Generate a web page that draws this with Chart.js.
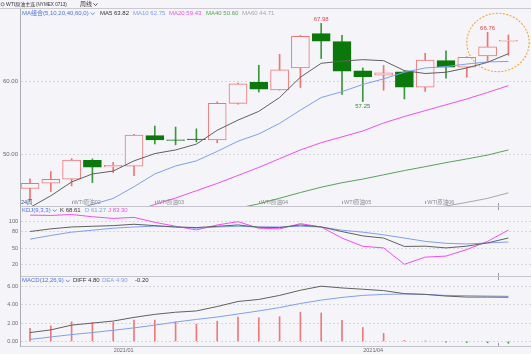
<!DOCTYPE html>
<html>
<head>
<meta charset="utf-8">
<script src="https://cdn.jsdelivr.net/npm/chart.js@4.4.1/dist/chart.umd.min.js"></script>
<style>
  html, body { margin: 0; padding: 0; background: #f4f4f9; }
  #wrap { position: relative; width: 531px; height: 354px; overflow: hidden; }
  canvas { position: absolute; left: 0; }
</style>
</head>
<body>
<div id="wrap">
  <canvas id="mainChart" width="531" height="207" style="top:0px"></canvas>
  <canvas id="kdjChart" width="531" height="70" style="top:207px"></canvas>
  <canvas id="macdChart" width="531" height="77" style="top:277px"></canvas>
</div>
<script>
// ---- dados (周线, 24 根) ----
const weekIdx = [0, 1, 2, 3, 4, 5, 6, 7, 8, 9, 10, 11, 12, 13, 14, 15, 16, 17, 18, 19, 20, 21, 22, 23];

const openP  = [45.30, 46.03, 46.58, 49.18, 48.26, 48.36, 52.56, 52.00, 52.10, 51.96, 56.99, 59.90, 58.86, 61.87, 66.58, 65.48, 61.46, 60.87, 61.32, 59.22, 62.87, 61.96, 63.50, 65.55];
const highP  = [46.62, 47.63, 49.40, 49.36, 48.90, 52.74, 53.88, 53.74, 53.50, 57.20, 59.77, 62.24, 63.74, 66.35, 67.98, 66.35, 61.87, 62.20, 61.50, 63.87, 64.23, 63.40, 66.76, 66.40];
const lowP   = [43.74, 44.89, 45.66, 46.12, 47.49, 47.08, 51.42, 51.30, 51.70, 51.60, 56.90, 58.54, 58.80, 59.18, 63.15, 58.22, 57.25, 58.80, 57.60, 58.63, 60.45, 60.60, 62.80, 63.60];
const closeP = [46.03, 46.58, 49.22, 48.22, 48.49, 52.65, 51.96, 51.90, 52.00, 56.99, 59.68, 58.95, 61.60, 66.21, 65.53, 61.42, 60.68, 61.19, 59.22, 62.96, 61.96, 63.32, 64.77, 65.65];

const ma5  = [42.7, 44.3, 46.2, 47.3, 47.7, 49.1, 50.1, 50.6, 51.4, 53.3, 54.7, 55.9, 57.8, 60.6, 62.5, 62.8, 63.0, 62.86, 61.5, 61.1, 61.27, 61.86, 62.64, 63.82];
const ma10 = [null, null, 42.3, 43.1, 43.94, 45.55, 47.3, 48.4, 49.1, 50.4, 51.8, 52.8, 54.25, 56.07, 57.8, 58.6, 59.6, 60.36, 61.27, 61.86, 62.05, 62.4, 62.7, 62.75];
const ma20 = [null, null, null, null, null, 42.2, 43.1, 44.0, 45.0, 46.0, 47.1, 48.2, 49.4, 50.6, 51.6, 52.4, 53.2, 54.3, 55.2, 56.0, 56.8, 57.6, 58.5, 59.43];
const ma40 = [null, null, null, null, null, null, null, null, null, null, 42.6, 43.2, 43.97, 44.75, 45.48, 46.1, 46.6, 47.18, 47.77, 48.3, 48.86, 49.36, 49.9, 50.60];
const ma60 = [null, null, null, null, null, null, null, null, null, null, null, null, null, null, null, null, null, null, null, 42.4, 42.9, 43.4, 43.95, 44.71];

const kVal = [80.6, 85.5, 89.0, 90.3, 91.5, 94.0, 91.5, 89.0, 87.9, 90.3, 92.7, 88.5, 87.9, 92.7, 89.0, 80.5, 72.5, 68.5, 53.0, 53.5, 50.3, 53.5, 59.6, 68.61];
const dVal = [66.5, 73.3, 79.4, 83.0, 86.7, 89.0, 90.5, 89.0, 86.7, 89.0, 90.3, 89.0, 89.0, 90.3, 89.0, 83.0, 79.4, 74.5, 68.5, 62.4, 58.8, 57.6, 59.4, 61.27];
const jVal = [110.9, 110.3, 112.0, 107.9, 104.8, 106.7, 97.6, 90.3, 83.6, 92.7, 98.8, 86.7, 85.5, 95.2, 89.0, 68.5, 53.3, 50.3, 20.0, 33.3, 35.2, 47.3, 62.4, 83.30];

const diffVal = [0.96, 1.25, 1.77, 1.99, 2.21, 2.61, 2.94, 3.17, 3.31, 3.79, 4.34, 4.56, 5.00, 5.56, 6.00, 5.81, 5.67, 5.52, 5.19, 5.11, 4.93, 4.82, 4.82, 4.80];
const deaVal  = [0.22, 0.48, 0.74, 0.96, 1.21, 1.47, 1.77, 2.10, 2.39, 2.65, 2.98, 3.31, 3.68, 4.12, 4.49, 4.78, 5.00, 5.11, 5.15, 5.11, 5.00, 4.97, 4.93, 4.90];
const macdBar = [1.43, 1.69, 2.13, 2.06, 2.06, 2.32, 2.32, 2.13, 1.88, 2.20, 2.65, 2.58, 2.69, 3.17, 3.09, 2.28, 1.51, 0.88, 0.11, 0.04, -0.08, -0.12, -0.15, -0.20];

const priceTicks = [50, 60];
const kdjTicks = [20, 50, 80, 100];
const macdTicks = [0, 2, 4, 6];
const dateTicks = [4.5, 16.5];
const dateLabels = ['2021/01', '2021/04'];
const contractAt = [2, 6, 11, 15, 19];
const contractNames = ['WTI原油02', 'WTI原油03', 'WTI原油04', 'WTI原油05', 'WTI原油06'];

// ---- estilo ----
const FONT = '"Liberation Sans", "Noto Sans CJK SC", sans-serif';
const BG = '#f4f4f9';
const RED = '#f07474';
const GREEN = '#0a780a';
const GREEN_WICK = '#3d963d';
const C_DARK = '#606060';
const C_BLUE = '#7f9ff0';
const C_PINK = '#f24ef2';
const C_GREEN = '#57a357';
const C_GRAY = '#a8a8a8';
const C_HEAD = '#4f72dc';
const X_MIN = -0.481, X_MAX = 24.087;

function xAxis(h, extra) {
  return Object.assign({
    type: 'linear', min: X_MIN, max: X_MAX, offset: false,
    afterFit: s => { s.height = h; s.paddingLeft = 0; s.paddingRight = 0; },
    ticks: { display: false },
    grid: { display: false, drawTicks: false, offset: false },
    border: { display: true, color: '#c4c4cc' }
  }, extra || {});
}

function yAxis(min, max, ticks, fmt, size) {
  return {
    position: 'left', min: min, max: max, beginAtZero: false,
    afterFit: s => { s.width = 20; s.paddingTop = 0; s.paddingBottom = 0; },
    afterBuildTicks: s => { s.ticks = ticks.map(v => ({ value: v })); },
    ticks: { font: { size: size, family: FONT }, color: '#6a6a6a', padding: 2, autoSkip: false, callback: v => fmt(v) },
    grid: { color: '#d6d6de', drawTicks: false },
    border: { display: true, color: '#acacb4', dash: [2, 2] }
  };
}

function lineDs(vals, color, order) {
  return {
    type: 'line', data: weekIdx.map(i => ({ x: i, y: vals[i] })),
    borderColor: color, borderWidth: 1, pointRadius: 0, tension: 0, fill: false, order: order
  };
}

function drawChevron(ctx, x, y, color) {
  ctx.save();
  ctx.strokeStyle = color; ctx.lineWidth = 0.8; ctx.setLineDash([]);
  ctx.beginPath(); ctx.moveTo(x, y - 1); ctx.lineTo(x + 2, y + 1.2); ctx.lineTo(x + 4, y - 1); ctx.stroke();
  ctx.restore();
}

function drawHeader(ctx, y, parts, size) {
  ctx.font = size + 'px ' + FONT; ctx.textBaseline = 'middle'; ctx.textAlign = 'left';
  parts.forEach(p => {
    ctx.fillStyle = p.color;
    ctx.fillText(p.text, p.x, y);
    if (p.chevron) drawChevron(ctx, p.x + ctx.measureText(p.text).width + 2, y, p.color);
  });
}

// marquinhas em 22.5 (topo / base do painel)
function edgeTicks(ctx, chart, top, bottom) {
  const x = Math.round(chart.scales.x.getPixelForValue(22.5)) + 0.5;
  const a = chart.chartArea;
  ctx.strokeStyle = '#9a9aa2'; ctx.lineWidth = 1; ctx.setLineDash([]);
  ctx.beginPath();
  if (top) { ctx.moveTo(x, a.top); ctx.lineTo(x, a.top + 3); }
  if (bottom) { ctx.moveTo(x, a.bottom - 3); ctx.lineTo(x, a.bottom); }
  ctx.stroke();
}

const last = arr => arr[arr.length - 1];

// ---- painel principal (K线 + MA) ----
const upAt = i => closeP[i] >= openP[i];

const mainDecor = {
  id: 'mainDecor',
  afterDraw(chart) {
    const ctx = chart.ctx, xs = chart.scales.x, ys = chart.scales.y, area = chart.chartArea;
    ctx.save();

    // barra de título
    ctx.strokeStyle = '#c9c9d2'; ctx.lineWidth = 1;
    ctx.beginPath(); ctx.moveTo(0, 8.5); ctx.lineTo(531, 8.5); ctx.stroke();
    ctx.textBaseline = 'middle'; ctx.textAlign = 'left'; ctx.fillStyle = '#333';
    ctx.strokeStyle = '#555'; ctx.lineWidth = 0.7;
    ctx.beginPath(); ctx.arc(2.6, 4.3, 1.6, 0, Math.PI * 2); ctx.stroke();
    ctx.font = '5px ' + FONT; ctx.fillText('WTI原油主连', 6, 4.4);
    ctx.font = '4.6px ' + FONT; ctx.fillText('(NYMEX 0713)', 36, 4.4);
    ctx.font = '6px ' + FONT; ctx.fillText('周线', 80, 4.4);
    drawChevron(ctx, 93.5, 4.4, '#333');

    // legenda MA
    drawHeader(ctx, 13.4, [
      { text: 'MA组合(5,10,20,40,60,0)', x: 22, color: C_HEAD, chevron: true },
      { text: 'MA5 ' + last(ma5).toFixed(2), x: 100, color: '#333' },
      { text: 'MA10 ' + last(ma10).toFixed(2), x: 133, color: C_BLUE },
      { text: 'MA20 ' + last(ma20).toFixed(2), x: 169, color: C_PINK },
      { text: 'MA40 ' + last(ma40).toFixed(2), x: 206, color: C_GREEN },
      { text: 'MA60 ' + last(ma60).toFixed(2), x: 242, color: C_GRAY }
    ], 6);

    // contratos
    ctx.font = '5.5px ' + FONT; ctx.fillStyle = '#8a8a92';
    contractAt.forEach((idx, k) => {
      const x = xs.getPixelForValue(idx);
      ctx.fillRect(Math.round(x), area.bottom - 5, 0.8, 3);
      ctx.fillText(contractNames[k], x + 2, area.bottom - 3.2);
    });
    ctx.fillStyle = '#35508a';
    ctx.fillText('24周', 21, area.bottom - 3.4);

    // máxima / mínima
    ctx.font = '6px ' + FONT; ctx.textAlign = 'center';
    [14, 22].forEach(i => {
      ctx.fillStyle = '#e04a4a'; ctx.textBaseline = 'bottom';
      ctx.fillText(highP[i].toFixed(2), xs.getPixelForValue(i), ys.getPixelForValue(highP[i]) - 1);
    });
    ctx.fillStyle = '#2f8f2f'; ctx.textBaseline = 'top';
    ctx.fillText(lowP[16].toFixed(2), xs.getPixelForValue(16), ys.getPixelForValue(lowP[16]) + 2);

    // círculo laranja tracejado
    const ex1 = xs.getPixelForValue(21), ex2 = xs.getPixelForValue(24);
    const ey1 = ys.getPixelForValue(69.37), ey2 = ys.getPixelForValue(61.35);
    ctx.setLineDash([2, 1.5]); ctx.strokeStyle = '#f5a43a'; ctx.lineWidth = 1.1;
    ctx.beginPath();
    ctx.ellipse((ex1 + ex2) / 2, (ey1 + ey2) / 2, (ex2 - ex1) / 2, (ey2 - ey1) / 2, 0, 0, Math.PI * 2);
    ctx.stroke();

    edgeTicks(ctx, chart, false, true);
    ctx.restore();
  }
};

new Chart(document.getElementById('mainChart'), {
  type: 'bar',
  data: {
    datasets: [
      lineDs(ma5, C_DARK, 0),
      lineDs(ma10, C_BLUE, 0),
      lineDs(ma20, C_PINK, 0),
      lineDs(ma40, C_GREEN, 0),
      lineDs(ma60, C_GRAY, 0),
      {
        type: 'bar', order: 1, grouped: false,
        data: weekIdx.map(i => ({ x: i, y: [openP[i], closeP[i]] })),
        categoryPercentage: 1, barPercentage: 1, maxBarThickness: 18,
        backgroundColor: c => upAt(c.dataIndex) ? BG : GREEN,
        borderColor: c => upAt(c.dataIndex) ? RED : GREEN,
        borderWidth: 1, borderSkipped: false
      },
      {
        type: 'bar', order: 2, grouped: false,
        data: weekIdx.map(i => ({ x: i, y: [lowP[i], highP[i]] })),
        categoryPercentage: 1, barPercentage: 1, maxBarThickness: 1,
        backgroundColor: c => upAt(c.dataIndex) ? RED : GREEN_WICK,
        borderWidth: 0
      }
    ]
  },
  options: {
    responsive: false, animation: false, events: [], devicePixelRatio: 1,
    layout: { padding: { top: 9, left: 0, right: 0, bottom: 0 } },
    plugins: { legend: { display: false }, tooltip: { enabled: false } },
    scales: {
      x: xAxis(1),
      y: yAxis(42.9, 69.96, priceTicks, v => v.toFixed(2), 6)
    }
  },
  plugins: [mainDecor]
});

// ---- KDJ ----
const kdjDecor = {
  id: 'kdjDecor',
  afterDraw(chart) {
    const ctx = chart.ctx;
    ctx.save();
    drawHeader(ctx, 3.4, [
      { text: 'KDJ(9,3,3)', x: 22, color: C_HEAD, chevron: true },
      { text: 'K ' + last(kVal).toFixed(2), x: 60, color: '#333' },
      { text: 'D ' + last(dVal).toFixed(2), x: 85, color: C_BLUE },
      { text: 'J ' + last(jVal).toFixed(2), x: 108, color: C_PINK }
    ], 6);
    edgeTicks(ctx, chart, true, true);
    ctx.restore();
  }
};

new Chart(document.getElementById('kdjChart'), {
  type: 'line',
  data: {
    datasets: [
      lineDs(kVal, C_DARK, 0),
      lineDs(dVal, C_BLUE, 1),
      lineDs(jVal, C_PINK, 2)
    ]
  },
  options: {
    responsive: false, animation: false, events: [], devicePixelRatio: 1,
    layout: { padding: 0 },
    plugins: { legend: { display: false }, tooltip: { enabled: false } },
    scales: {
      x: xAxis(1),
      y: yAxis(-1.6, 125.9, kdjTicks, v => String(v), 5.5)
    }
  },
  plugins: [kdjDecor]
});

// ---- MACD ----
const macdDecor = {
  id: 'macdDecor',
  afterDraw(chart) {
    const ctx = chart.ctx;
    ctx.save();
    drawHeader(ctx, 3.8, [
      { text: 'MACD(12,26,9)', x: 22, color: C_HEAD, chevron: true },
      { text: 'DIFF ' + last(diffVal).toFixed(2), x: 73, color: '#333' },
      { text: 'DEA ' + last(deaVal).toFixed(2), x: 102, color: C_BLUE },
      { text: last(macdBar).toFixed(2), x: 135, color: '#333' }
    ], 6);
    edgeTicks(ctx, chart, true, true);
    ctx.restore();
  }
};

new Chart(document.getElementById('macdChart'), {
  type: 'bar',
  data: {
    datasets: [
      lineDs(diffVal, C_DARK, 0),
      lineDs(deaVal, C_BLUE, 0),
      {
        type: 'bar', order: 1, grouped: false,
        data: weekIdx.map(i => ({ x: i, y: macdBar[i] })),
        categoryPercentage: 1, barPercentage: 1, maxBarThickness: 1,
        backgroundColor: c => macdBar[c.dataIndex] >= 0 ? '#f07878' : '#3c9a3c',
        borderWidth: 0
      }
    ]
  },
  options: {
    responsive: false, animation: false, events: [], devicePixelRatio: 1,
    layout: { padding: 0 },
    plugins: { legend: { display: false }, tooltip: { enabled: false } },
    scales: {
      x: xAxis(8, {
        afterBuildTicks: s => { s.ticks = dateTicks.map(v => ({ value: v })); },
        ticks: { display: true, autoSkip: false, maxRotation: 0, padding: 1, color: '#6a6a6a',
                 font: { size: 5.5, family: FONT }, callback: (v, i) => dateLabels[i] }
      }),
      y: yAxis(-0.5, 7.0, macdTicks, v => v.toFixed(2), 5.5)
    }
  },
  plugins: [macdDecor]
});
</script>
</body>
</html>
